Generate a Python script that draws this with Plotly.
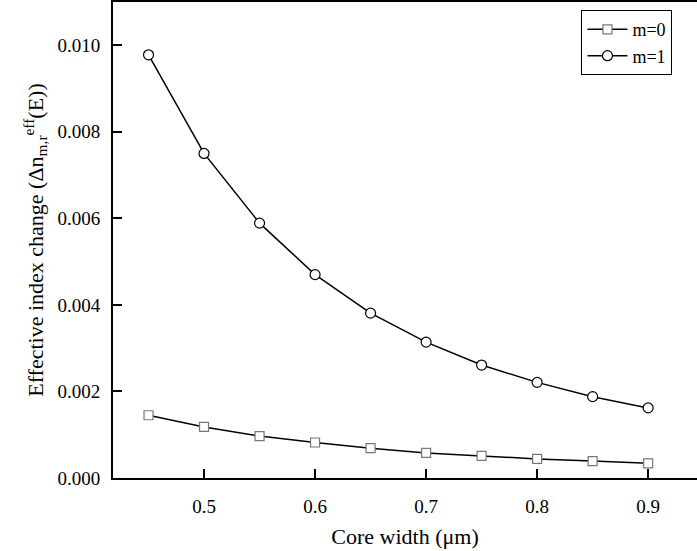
import plotly.graph_objects as go

core_width = [0.45, 0.5, 0.55, 0.6, 0.65, 0.7, 0.75, 0.8, 0.85, 0.9]
m0 = [0.00145, 0.00118, 0.00097, 0.00082, 0.00069, 0.00058, 0.00051, 0.00044, 0.00039, 0.00034]
m1 = [0.00978, 0.0075, 0.00589, 0.0047, 0.00381, 0.00314, 0.00261, 0.00221, 0.00188, 0.00162]

FAM = "Liberation Serif"

fig = go.Figure()
fig.add_trace(go.Scatter(x=core_width, y=m0, name="m=0", mode="lines+markers",
                         line=dict(color="black", width=1.5),
                         marker=dict(symbol="square", size=9, color="white",
                                     line=dict(color="#777777", width=1.2))))
fig.add_trace(go.Scatter(x=core_width, y=m1, name="m=1", mode="lines+markers",
                         line=dict(color="black", width=1.5),
                         marker=dict(symbol="circle", size=10, color="white",
                                     line=dict(color="black", width=1.2))))

fig.update_layout(
    template="none",
    width=697, height=551,
    margin=dict(l=113, r=0, t=2, b=73, autoexpand=False),
    plot_bgcolor="white", paper_bgcolor="white",
    font=dict(size=19, family=FAM, color="black"),
    showlegend=True,
    legend=dict(x=0.958, y=0.983, xanchor="right", yanchor="top",
                bordercolor="black", borderwidth=1, bgcolor="white",
                itemwidth=40,
                font=dict(size=18, family=FAM, color="black"), tracegroupgap=0),
    xaxis=dict(range=[0.418, 0.944], tickvals=[0.5, 0.6, 0.7, 0.8, 0.9],
               ticktext=["0.5", "0.6", "0.7", "0.8", "0.9"],
               tickfont=dict(size=19, family=FAM, color="black"),
               ticks="inside", ticklen=9, tickwidth=1.5, tickcolor="black",
               ticklabelstandoff=10,
               showline=True, linecolor="black", linewidth=2, mirror=True,
               showgrid=False, zeroline=False, automargin=False,
               title=dict(text="Core width (μm)", font=dict(size=22, family=FAM, color="black"),
                          standoff=13)),
    yaxis=dict(range=[0, 0.011], tickvals=[0, 0.002, 0.004, 0.006, 0.008, 0.010],
               ticktext=["0.000", "0.002", "0.004", "0.006", "0.008", "0.010"],
               tickfont=dict(size=19, family=FAM, color="black"),
               ticks="inside", ticklen=9, tickwidth=1.5, tickcolor="black",
               ticklabelstandoff=7,
               showline=True, linecolor="black", linewidth=2,
               showgrid=False, zeroline=False, automargin=False,
               title=dict(text="Effective index change (Δn<sub>m,r</sub><sup>eff</sup>(E))",
                          font=dict(size=22, family=FAM, color="black"), standoff=8)),
)
fig.write_html("out.html", config={"displayModeBar": False},
               post_script="document.body.style.margin='0';")
